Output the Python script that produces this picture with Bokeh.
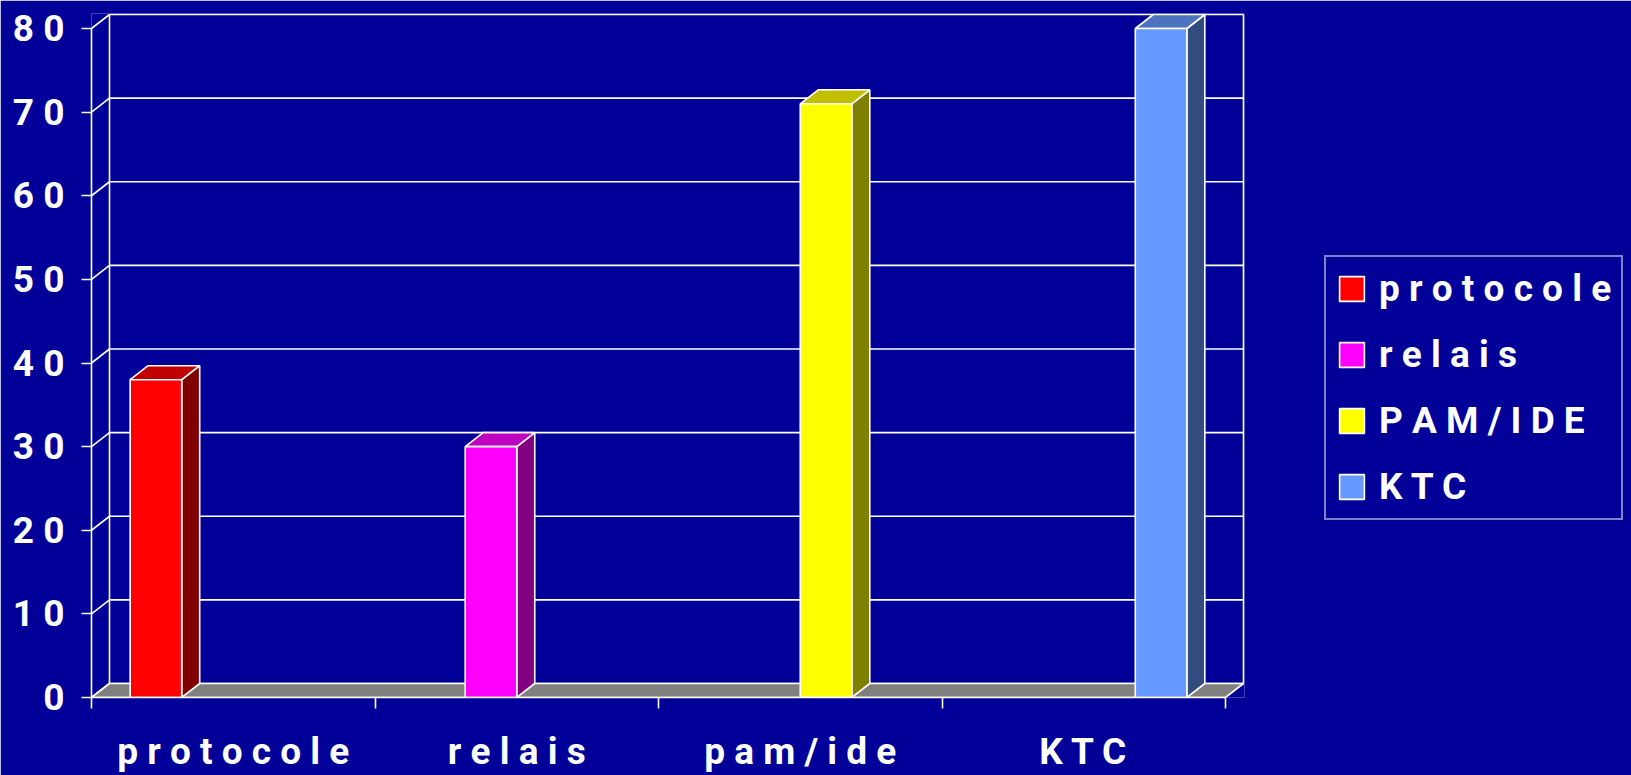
from bokeh.plotting import figure
from bokeh.models import Range1d, FixedTicker, Legend, LegendItem
from bokeh.embed import file_html
from bokeh.resources import INLINE

# ---- data ----
categories = ["p r o t o c o l e", "r e l a i s", "p a m / i d e", "K T C"]
series_names = ["p r o t o c o l e", "r e l a i s", "P A M / I D E", "K T C"]
series_values = [38, 30, 71, 80]
series_category = [0, 1, 2, 3]
front_colors = ["#FF0000", "#FF00FF", "#FFFF00", "#6699FF"]
top_colors = ["#C00000", "#C000C0", "#C0C000", "#4D73BF"]
side_colors = ["#800000", "#800080", "#808000", "#334C80"]
y_ticks = [0, 10, 20, 30, 40, 50, 60, 70, 80]
y_tick_labels = ["0", "1 0", "2 0", "3 0", "4 0", "5 0", "6 0", "7 0", "8 0"]

# ---- style / geometry ----
BG = "#000099"
FONT = "Roboto"
FS = "37px"
FRAME_W, FRAME_H = 1153, 684
CAT_PX = 283.5
n_cat = len(categories)
n_ser = len(series_names)
gap = 1.5
bar_w = 1.0 / (n_ser + gap)
depth_x = 18 / CAT_PX
x_end = FRAME_W / CAT_PX
y_max = y_ticks[-1]
px_per_unit = 8.3625
depth_y = 14 / px_per_unit
y_end = FRAME_H / px_per_unit

p = figure(frame_width=FRAME_W, frame_height=FRAME_H,
           x_range=Range1d(0, x_end), y_range=Range1d(0, y_end),
           output_backend="svg", toolbar_location=None,
           background_fill_color=BG, border_fill_color=BG,
           outline_line_color=None,
           min_border_left=91, min_border_top=13, min_border_right=385,
           min_border_bottom=60)
p.grid.visible = False

LW = 1.6
# back wall gridlines
p.segment(x0=[depth_x] * len(y_ticks), y0=[t + depth_y for t in y_ticks],
          x1=[n_cat + depth_x] * len(y_ticks), y1=[t + depth_y for t in y_ticks],
          line_color="white", line_width=LW)
# side wall connectors
p.segment(x0=[0] * len(y_ticks), y0=y_ticks,
          x1=[depth_x] * len(y_ticks), y1=[t + depth_y for t in y_ticks],
          line_color="white", line_width=LW)
# back wall verticals
p.segment(x0=[depth_x, n_cat + depth_x], y0=[depth_y, depth_y],
          x1=[depth_x, n_cat + depth_x], y1=[y_max + depth_y, y_max + depth_y],
          line_color="white", line_width=LW)
# floor
p.patch(x=[0, n_cat, n_cat + depth_x, depth_x], y=[0, 0, depth_y, depth_y],
        fill_color="#808080", line_color="white", line_width=LW)

items = []
for i in range(n_ser):
    c = series_category[i]
    v = series_values[i]
    x0 = c + (gap / 2 + i) * bar_w
    x1 = x0 + bar_w
    p.patch(x=[x1, x1 + depth_x, x1 + depth_x, x1], y=[0, depth_y, v + depth_y, v],
            fill_color=side_colors[i], line_color="white", line_width=LW)
    p.patch(x=[x0, x1, x1 + depth_x, x0 + depth_x], y=[v, v, v + depth_y, v + depth_y],
            fill_color=top_colors[i], line_color="white", line_width=LW)
    r = p.quad(left=[x0], right=[x1], bottom=[0], top=[v],
               fill_color=front_colors[i], line_color="white", line_width=LW)
    items.append(LegendItem(label=series_names[i], renderers=[r]))

# axes
xa = p.xaxis[0]
xa.ticker = FixedTicker(ticks=[c + 0.5 for c in range(n_cat)],
                        minor_ticks=list(range(n_cat + 1)))
xa.major_label_overrides = {c + 0.5: categories[c] for c in range(n_cat)}
xa.major_tick_out = 0
xa.major_tick_in = 0
xa.minor_tick_out = 11
xa.minor_tick_in = 0
xa.minor_tick_line_color = "white"
xa.minor_tick_line_width = LW
xa.axis_line_color = "white"
xa.axis_line_width = LW
xa.bounds = (0, n_cat)
xa.major_label_standoff = 21

ya = p.yaxis[0]
ya.ticker = FixedTicker(ticks=y_ticks)
ya.major_label_overrides = dict(zip(y_ticks, y_tick_labels))
ya.bounds = (0, y_max)
ya.major_tick_out = 10
ya.major_tick_in = 0
ya.major_tick_line_color = "white"
ya.major_tick_line_width = LW
ya.minor_tick_line_color = None
ya.axis_line_color = "white"
ya.axis_line_width = LW
ya.major_label_standoff = 17

for ax in (xa, ya):
    ax.major_label_text_color = "white"
    ax.major_label_text_font = FONT
    ax.major_label_text_font_style = "bold"
    ax.major_label_text_font_size = FS

legend = Legend(items=items, location=(80, 177), margin=0,
                background_fill_color=BG, background_fill_alpha=1.0,
                border_line_color="white", border_line_width=2,
                label_text_color="white", label_text_font=FONT,
                label_text_font_style="bold", label_text_font_size=FS,
                glyph_width=31, glyph_height=31, label_standoff=12,
                padding=10, spacing=23)
p.add_layout(legend, "right")

open("out.html", "w").write(file_html(p, INLINE))
